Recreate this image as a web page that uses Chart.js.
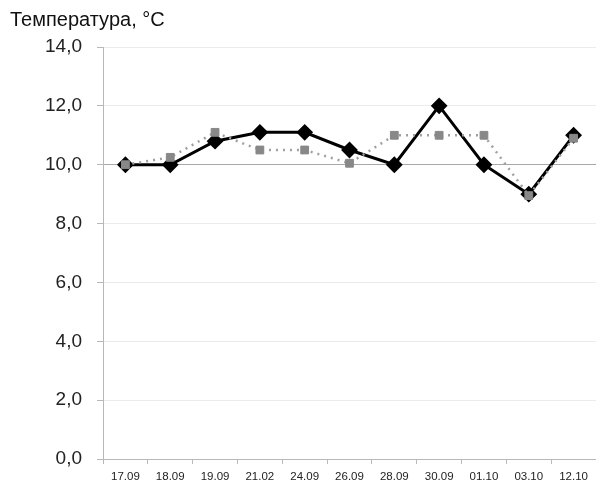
<!DOCTYPE html>
<html>
<head>
<meta charset="utf-8">
<script src="https://cdn.jsdelivr.net/npm/chart.js@4/dist/chart.umd.min.js"></script>
<style>
  html, body { margin: 0; padding: 0; background: #ffffff; }
  canvas { display: block; }
</style>
</head>
<body>
<canvas id="c" width="596" height="488"></canvas>
<script>
const categories = ['17.09','18.09','19.09','21.02','24.09','26.09','28.09','30.09','01.10','03.10','12.10'];
const seriesBlack = [10.0, 10.0, 10.8, 11.1, 11.1, 10.5, 10.0, 12.0, 10.0, 9.0, 11.0];
const seriesGray = [10.0, 10.25, 11.1, 10.5, 10.5, 10.05, 11.0, 11.0, 11.0, 8.95, 10.9];
const yTicks = [0, 2, 4, 6, 8, 10, 12, 14];
const titleText = 'Температура, °C';

new Chart(document.getElementById('c'), {
  type: 'line',
  data: {
    labels: categories,
    datasets: [
      {
        label: 'gray',
        data: seriesGray,
        borderColor: '#a0a0a0',
        borderWidth: 2.5,
        borderDash: [2, 5],
        pointStyle: 'rect',
        pointRadius: 5.5,
        pointBackgroundColor: '#888888',
        pointBorderColor: '#888888',
        pointBorderWidth: 1,
        tension: 0,
        fill: false
      },
      {
        label: 'black',
        data: seriesBlack,
        borderColor: '#000000',
        borderWidth: 3,
        pointStyle: 'rectRot',
        pointRadius: 7,
        pointBackgroundColor: '#000000',
        pointBorderColor: '#000000',
        pointBorderWidth: 2,
        tension: 0,
        fill: false
      }
    ]
  },
  options: {
    responsive: false,
    animation: false,
    devicePixelRatio: 1,
    layout: { autoPadding: false, padding: { left: 10, right: -2, top: 0, bottom: 0 } },
    plugins: {
      legend: { display: false },
      tooltip: { enabled: false },
      title: {
        display: true,
        text: titleText,
        align: 'start',
        color: '#111111',
        font: { family: 'Liberation Sans', size: 20, weight: 'normal', lineHeight: 1.2 },
        padding: { top: 8, bottom: 15 }
      }
    },
    scales: {
      x: {
        type: 'category',
        offset: true,
        grid: {
          offset: true,
          drawOnChartArea: false,
          drawTicks: true,
          tickLength: 5,
          tickColor: '#b8b8b8'
        },
        border: { display: true, color: '#b8b8b8', width: 1 },
        ticks: {
          color: '#222222',
          font: { family: 'Liberation Sans', size: 11.5 },
          padding: 6,
          maxRotation: 0,
          autoSkip: false
        },
        afterFit: (s) => { s.height = 29; s.paddingLeft = 0; s.paddingRight = 0; }
      },
      y: {
        min: 0,
        max: 14,
        afterBuildTicks: (s) => { s.ticks = yTicks.map(v => ({ value: v })); },
        grid: {
          color: (ctx) => (ctx.tick && ctx.tick.value === 10 ? '#a8a8a8' : '#ececec'),
          lineWidth: 1,
          drawTicks: true,
          tickLength: 6,
          tickColor: '#b8b8b8'
        },
        border: { display: true, color: '#b8b8b8', width: 1 },
        ticks: {
          color: '#222222',
          font: { family: 'Liberation Sans', size: 19 },
          padding: 15,
          callback: (v) => Number(v).toFixed(1).replace('.', ',')
        },
        afterFit: (s) => { s.width = 93; }
      }
    }
  }
});
</script>
</body>
</html>
